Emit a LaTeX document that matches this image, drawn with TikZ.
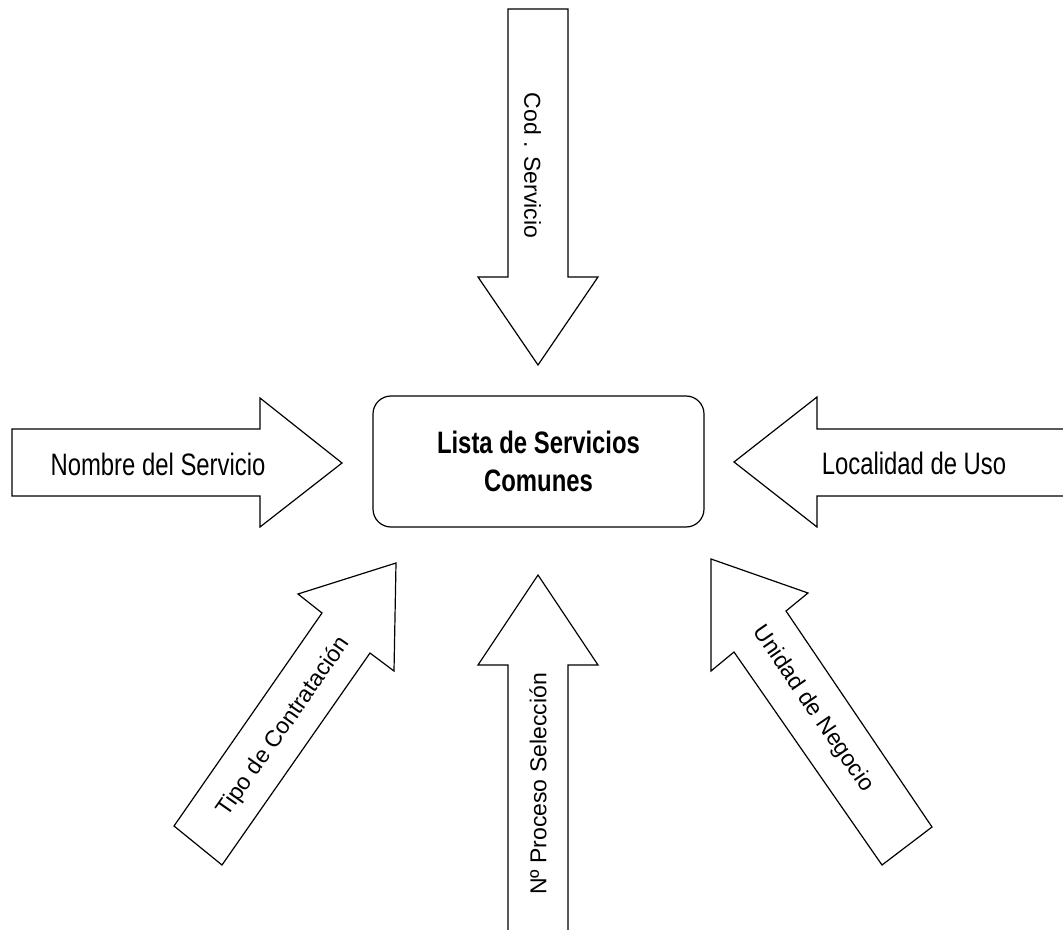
\documentclass[tikz,border=0pt]{standalone}
\usepackage{fontspec}
\setmainfont{Liberation Sans}
\newfontfamily\narrowfont[FakeStretch=0.77]{Liberation Sans}
\begin{document}
\begin{tikzpicture}[x=0.75pt,y=-0.75pt,
  blockarrow/.style={draw=black, line width=0.9pt, line join=miter, fill=white},
  flatlabel/.style={inner sep=0pt, font=\narrowfont\fontsize{23.25pt}{28.5pt}\selectfont},
  sidelabel/.style={inner sep=0pt, font=\fontsize{17.25pt}{20pt}\selectfont},
  hub/.style={draw=black, line width=0.9pt, rounded corners=13.5pt,
    minimum width=248.25pt, minimum height=98.25pt, align=center,
    font=\narrowfont\bfseries\fontsize{23.25pt}{28.5pt}\selectfont}]
\useasboundingbox (0,0) rectangle (1063,930);
\clip (0,0) rectangle (1063,930);

% central process box
\node[hub] (lista) at (538.5,461.5) {Lista de Servicios\\Comunes};

% top block arrow, pointing down
\draw[blockarrow] (508,9) -- (568,9) -- (568,277) -- (598,277) -- (538,365)
  -- (478,277) -- (508,277) -- cycle;
\node[sidelabel, rotate=-90] (cod) at (532.5,165.5) {Cod . Servicio};

% bottom block arrow, pointing up
\draw[blockarrow] (508,940) -- (508,665) -- (478,665) -- (538,575) -- (598,665)
  -- (568,665) -- (568,940) -- cycle;
\node[sidelabel, rotate=90] (proceso) at (538,784) {Nº Proceso Selección};

% left block arrow, pointing right
\draw[blockarrow] (12,429) -- (260,429) -- (260,398) -- (342,463) -- (260,527)
  -- (260,496) -- (12,496) -- cycle;
\node[flatlabel, anchor=base] (nombre) at (158,475) {Nombre del Servicio};

% right block arrow, pointing left
\draw[blockarrow] (1075,429) -- (817,429) -- (817,397) -- (734,462) -- (817,527)
  -- (817,496) -- (1075,496) -- cycle;
\node[flatlabel, anchor=base] (localidad) at (914,474) {Localidad de Uso};

% lower left diagonal block arrow
\draw[blockarrow] (174,826) -- (322,613) -- (298,594) -- (396,563) -- (394,671)
  -- (370,653) -- (222,865) -- cycle;
\node[sidelabel, rotate=55] (tipo) at (284,727) {Tipo de Contratación};

% lower right diagonal block arrow
\draw[blockarrow] (882,865) -- (734,652) -- (711,671) -- (711,559) -- (808,593)
  -- (786,611) -- (932,827) -- cycle;
\node[sidelabel, rotate=-55.5] (unidad) at (813,709) {Unidad de Negocio};
\end{tikzpicture}
\end{document}
